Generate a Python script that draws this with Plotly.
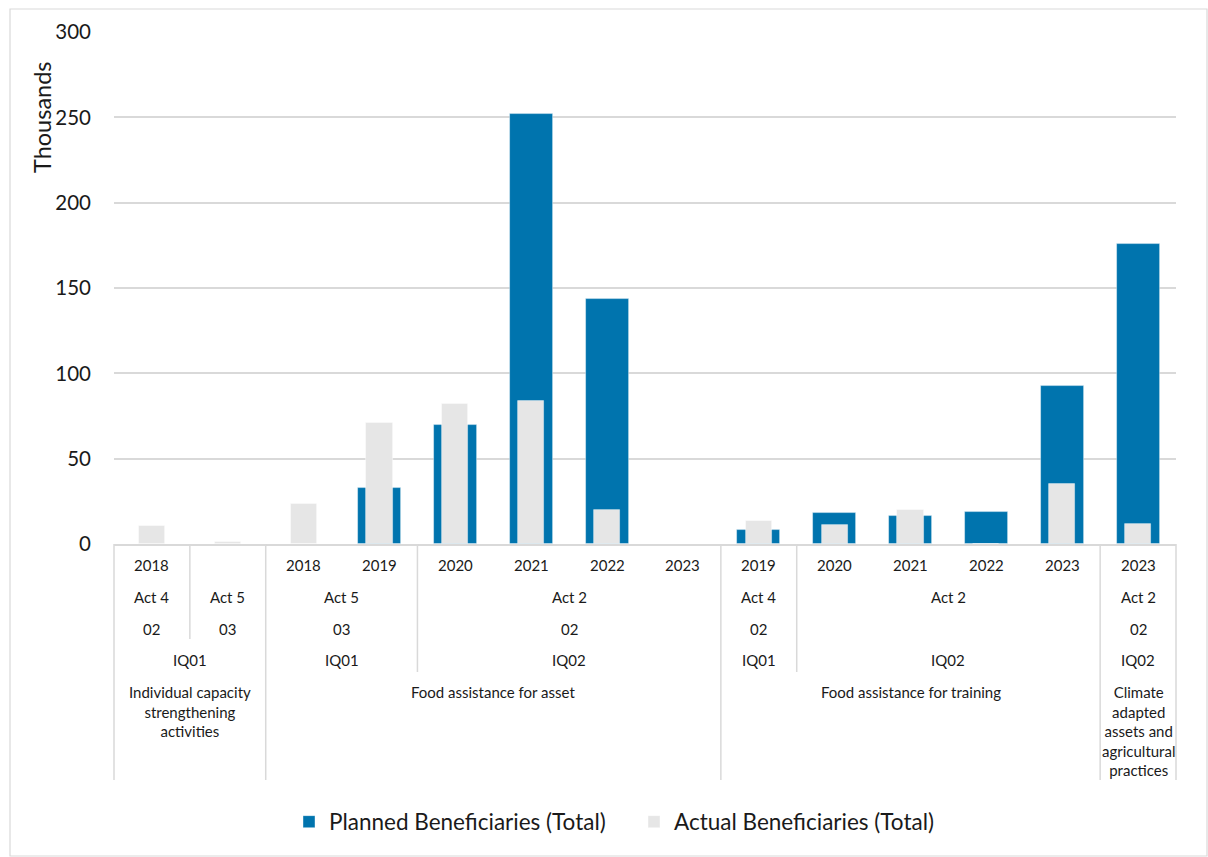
import plotly.graph_objects as go

# Beneficiaries (thousands) per activity / year, ordered as on the axis
years = ["2018", "", "2018", "2019", "2020", "2021", "2022", "2023",
         "2019", "2020", "2021", "2022", "2023", "2023"]
activities = ["Act 4", "Act 5", "Act 5", "Act 5", "Act 2", "Act 2", "Act 2", "Act 2",
              "Act 4", "Act 2", "Act 2", "Act 2", "Act 2", "Act 2"]
outcomes = ["02", "03", "03", "03", "02", "02", "02", "02",
            "02", "", "", "", "", "02"]
indicators = ["IQ01", "IQ01", "IQ01", "IQ01", "IQ02", "IQ02", "IQ02", "IQ02",
              "IQ01", "IQ02", "IQ02", "IQ02", "IQ02", "IQ02"]
modalities = (["Individual capacity<br>strengthening<br>activities"] * 2
              + ["Food assistance for asset"] * 6
              + ["Food assistance for training"] * 5
              + ["Climate<br>adapted<br>assets and<br>agricultural<br>practices"])

planned = [0, 0, 0, 33.1, 70.0, 251.8, 143.8, 0,
           8.4, 17.9, 16.7, 19.0, 92.7, 175.6]
actual = [10.8, 1.2, 23.6, 70.8, 81.8, 83.7, 19.8, 0,
          13.6, 10.9, 20.2, 0, 35.4, 11.8]

levels = [years, activities, outcomes, indicators, modalities]

BLUE = "#0074AE"
GREY = "#E6E6E6"
LINE = "#D9D9D9"
FONT = "Lato"
TXT = "#1a1a1a"

# plot-area geometry in pixels (used to place the label rows below the axis)
W, H = 1208, 857
L, R, T, B = 114, 32, 32, 313
plot_w = W - L - R
plot_h = H - T - B


def px_to_paper_y(py):
    return (H - B - py) / plot_h


def px_to_paper_x(px):
    return (px - L) / plot_w


n = len(years)
xs = list(range(n))
xmin, xmax = -0.5, n - 0.5

fig = go.Figure()
fig.add_trace(go.Bar(
    x=xs, y=planned, name="Planned Beneficiaries (Total)", width=0.567,
    marker=dict(color=BLUE, line=dict(color="rgba(255,255,255,0.5)", width=0.8)),
))
fig.add_trace(go.Bar(
    x=xs, y=actual, name="Actual Beneficiaries (Total)", width=0.343,
    marker=dict(color=GREY, line=dict(color="rgba(255,255,255,0.5)", width=0.8)),
))

# hierarchical category labels: group consecutive entries sharing a path
row_center = [565, 597, 629, 660]
row_bottom = [581, 613, 639, 672, 780]
annotations = []
for lvl, labels in enumerate(levels):
    start = 0
    for i in range(1, n + 1):
        same = (i < n and all(levels[k][i] == levels[k][i - 1] for k in range(lvl, len(levels))))
        if lvl == 0 or not same:
            end = i - 1
            text = labels[start]
            if text:
                if lvl < 4:
                    annotations.append(dict(
                        x=(start + end) / 2, y=px_to_paper_y(row_center[lvl]),
                        xref="x", yref="paper", text=text, showarrow=False,
                        xanchor="center", yanchor="middle",
                        font=dict(family=FONT, size=15, color=TXT)))
                else:
                    annotations.append(dict(
                        x=(start + end) / 2, y=px_to_paper_y(681),
                        xref="x", yref="paper", text=text, showarrow=False,
                        xanchor="center", yanchor="top", align="center",
                        font=dict(family=FONT, size=15, color=TXT)))
            start = i

# separator lines between groups, reaching down to the deepest differing level
shapes = []
for b in range(n + 1):
    if b == 0 or b == n:
        depth = 4
    else:
        depth = -1
        for k in range(1, len(levels)):
            if levels[k][b] != levels[k][b - 1]:
                depth = k
    if depth < 1:
        continue
    xp = (b - 0.5 - xmin) / (xmax - xmin)
    shapes.append(dict(type="line", xref="paper", yref="paper",
                       x0=xp, x1=xp, y0=0, y1=px_to_paper_y(row_bottom[depth]),
                       line=dict(color=LINE, width=1.5)))

# outer chart border
shapes.append(dict(type="rect", xref="paper", yref="paper",
                   x0=px_to_paper_x(10), x1=px_to_paper_x(1207),
                   y0=px_to_paper_y(856), y1=px_to_paper_y(9),
                   line=dict(color=LINE, width=1.2), fillcolor="rgba(0,0,0,0)"))

annotations.append(dict(
    x=px_to_paper_x(42), y=px_to_paper_y(117), xref="paper", yref="paper",
    text="Thousands", textangle=-90, showarrow=False,
    xanchor="center", yanchor="middle",
    font=dict(family=FONT, size=23.5, color=TXT)))

fig.update_layout(
    width=W, height=H,
    margin=dict(l=L, r=R, t=T, b=B),
    paper_bgcolor="white", plot_bgcolor="white",
    barmode="overlay", bargap=0,
    font=dict(family=FONT, color=TXT),
    showlegend=True,
    legend=dict(orientation="h", x=px_to_paper_x(634), y=px_to_paper_y(822),
                xanchor="center", yanchor="middle",
                font=dict(family=FONT, size=22.5, color=TXT),
                itemwidth=30, entrywidth=300, traceorder="normal"),
    annotations=annotations,
    shapes=shapes,
)
fig.update_xaxes(range=[xmin, xmax], showticklabels=False, showgrid=False,
                 zeroline=False, showline=True, linecolor=LINE, linewidth=1.5,
                 ticks="", fixedrange=True)
fig.update_yaxes(range=[0, 300], dtick=50, showgrid=True, gridcolor=LINE,
                 gridwidth=1.5, zeroline=False, showline=False,
                 tickfont=dict(family=FONT, size=20.5, color=TXT),
                 ticklabelstandoff=22, fixedrange=True)

fig.write_html("out.html")
